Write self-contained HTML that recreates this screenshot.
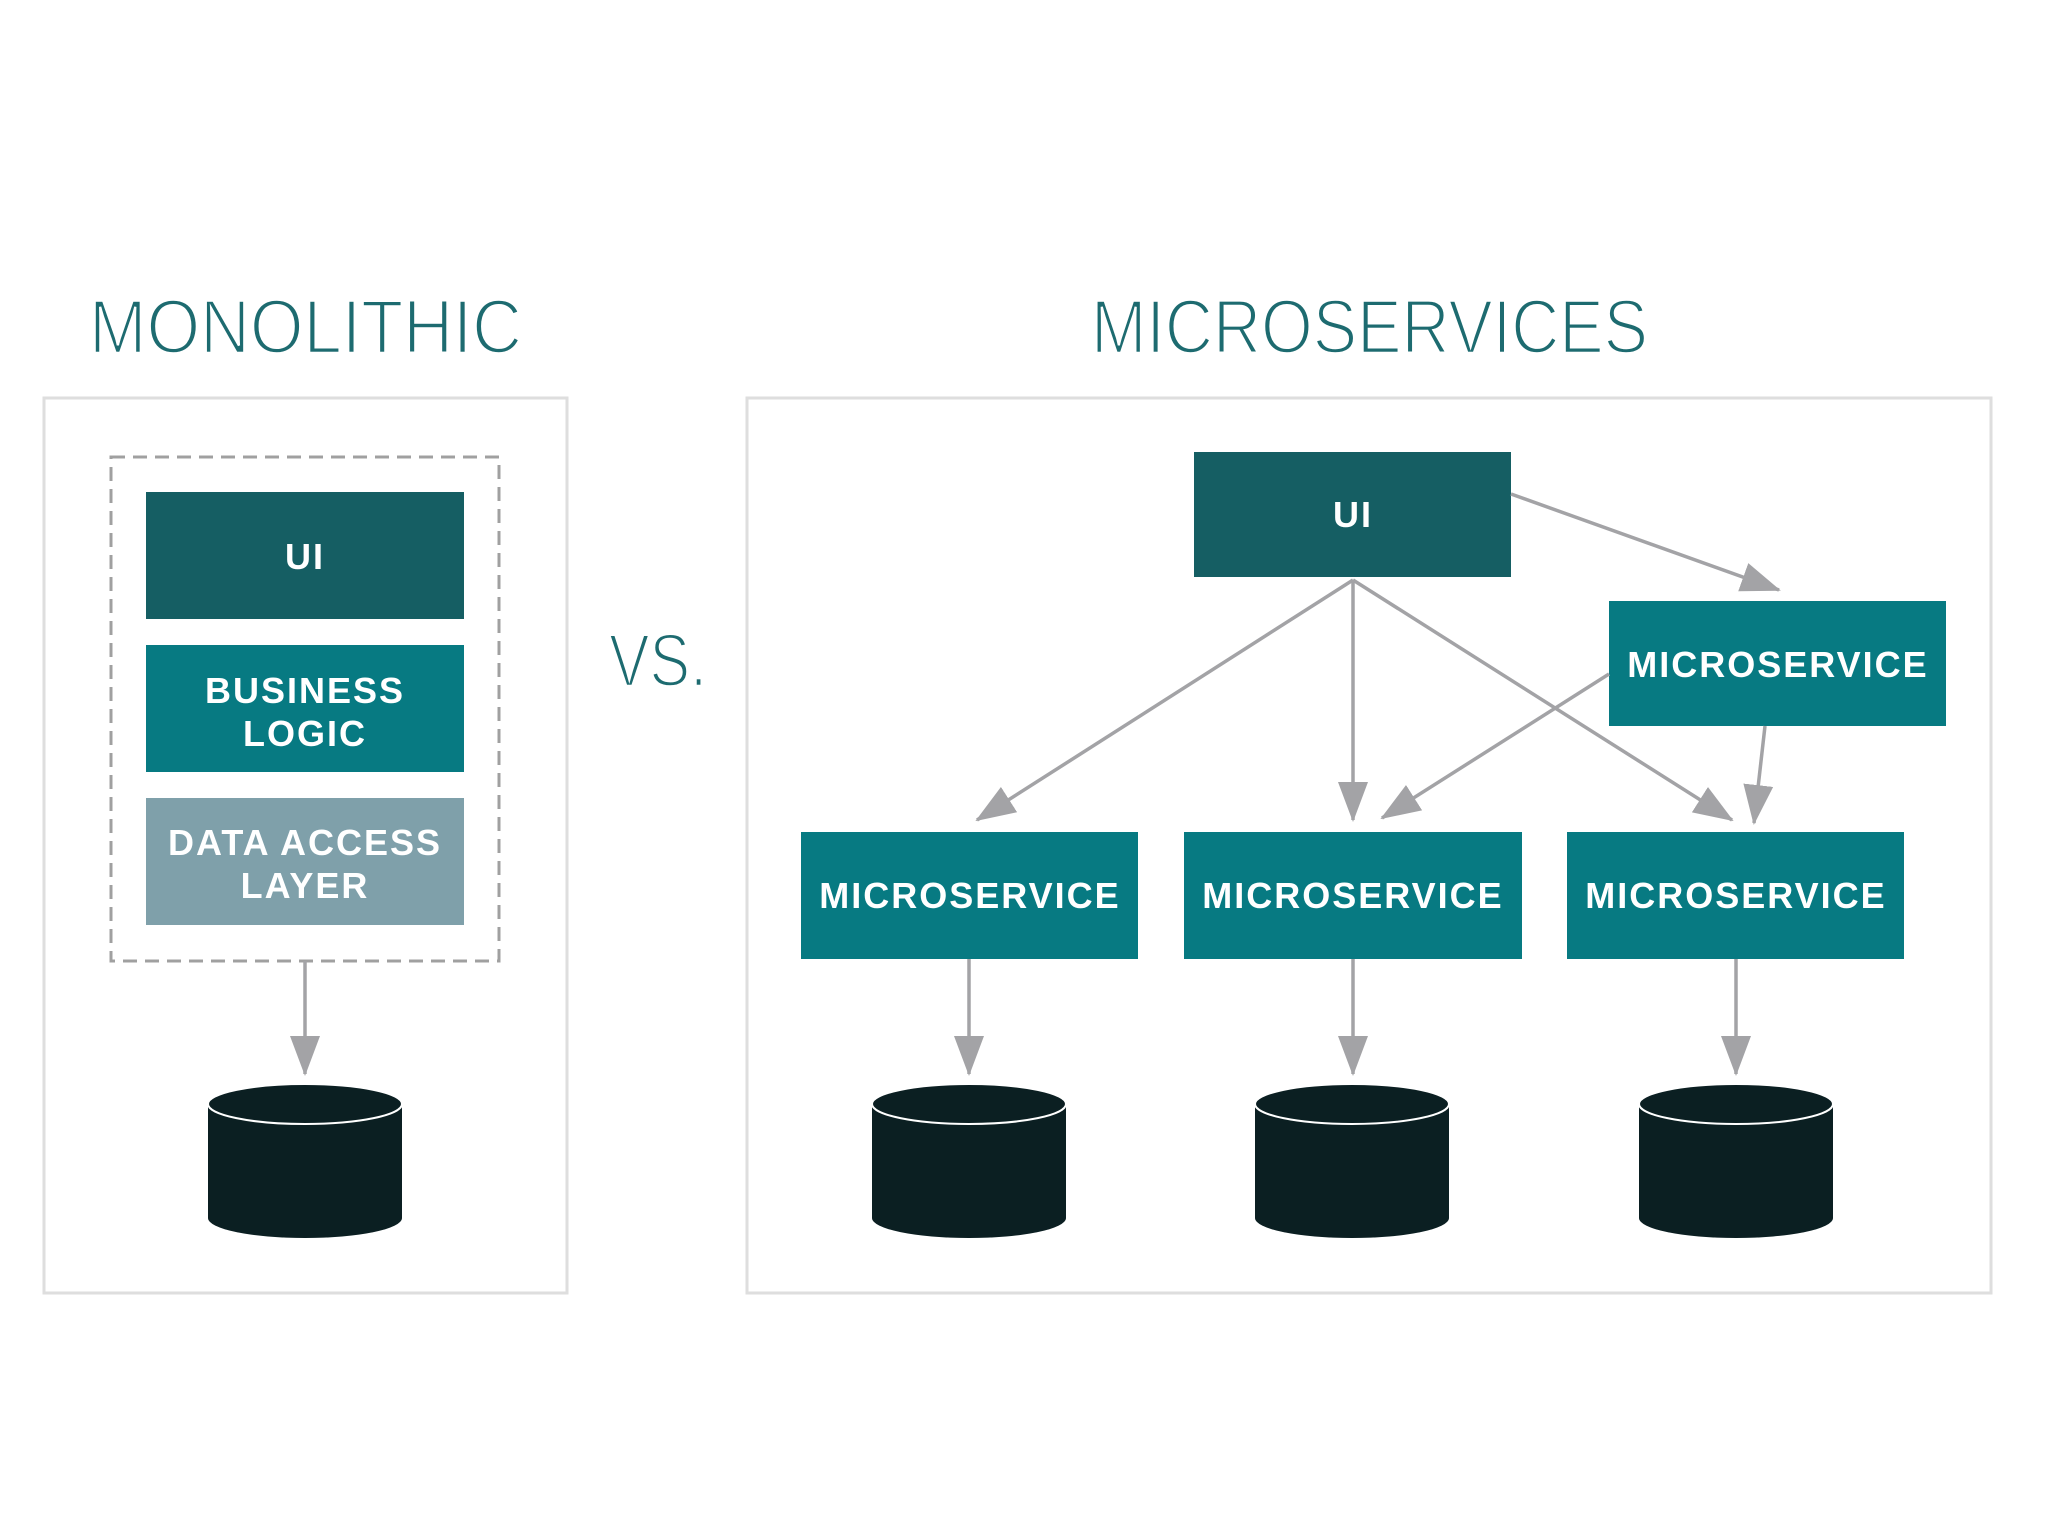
<!DOCTYPE html>
<html><head><meta charset="utf-8"><style>html,body{margin:0;padding:0;background:#fff}svg{display:block}</style></head>
<body>
<svg width="2048" height="1536" viewBox="0 0 2048 1536" xmlns="http://www.w3.org/2000/svg" font-family="Liberation Sans, sans-serif">
<defs>
<marker id="ah" markerWidth="40" markerHeight="30" refX="38" refY="15" orient="auto" markerUnits="userSpaceOnUse">
<path d="M0,0 L40,15 L0,30 Z" fill="#a3a3a6"/>
</marker>
</defs>
<rect width="2048" height="1536" fill="#fff"/>
<!-- Titles -->
<g fill="#1d6b70" stroke="#fff" stroke-width="2.5">
<text x="89" y="353" font-size="76" textLength="433" lengthAdjust="spacingAndGlyphs">MONOLITHIC</text>
<text x="1091" y="353" font-size="76" textLength="557" lengthAdjust="spacingAndGlyphs">MICROSERVICES</text>
<text x="609" y="686" font-size="74" textLength="98" lengthAdjust="spacingAndGlyphs">VS.</text>
</g>
<!-- Panels -->
<rect x="44" y="398" width="523" height="895" fill="#fff" stroke="#dedede" stroke-width="3"/>
<rect x="747" y="398" width="1244" height="895" fill="#fff" stroke="#dedede" stroke-width="3"/>
<!-- Monolithic -->
<rect x="111" y="457" width="388" height="504" fill="none" stroke="#a0a0a0" stroke-width="3" stroke-dasharray="14,8"/>
<rect x="146" y="492" width="318" height="127" fill="#155e63"/>
<rect x="146" y="645" width="318" height="127" fill="#077a82"/>
<rect x="146" y="798" width="318" height="127" fill="#7fa0aa"/>
<g fill="#fff" font-weight="bold" font-size="36" text-anchor="middle" letter-spacing="2">
<text x="305" y="569">UI</text>
<text x="305" y="703">BUSINESS</text>
<text x="305" y="746">LOGIC</text>
<text x="305" y="855">DATA ACCESS</text>
<text x="305" y="898">LAYER</text>
</g>
<line x1="305" y1="961" x2="305" y2="1074" stroke="#a3a3a6" stroke-width="3.5" marker-end="url(#ah)"/>
<!-- Microservices boxes -->
<rect x="1194" y="452" width="317" height="125" fill="#155e63"/>
<rect x="1609" y="601" width="337" height="125" fill="#077a82"/>
<rect x="801" y="832" width="337" height="127" fill="#077a82"/>
<rect x="1184" y="832" width="338" height="127" fill="#077a82"/>
<rect x="1567" y="832" width="337" height="127" fill="#077a82"/>
<g fill="#fff" font-weight="bold" font-size="36" text-anchor="middle" letter-spacing="2">
<text x="1353" y="527">UI</text>
<text x="1778" y="677">MICROSERVICE</text>
<text x="970" y="908">MICROSERVICE</text>
<text x="1353" y="908">MICROSERVICE</text>
<text x="1736" y="908">MICROSERVICE</text>
</g>
<g stroke="#a3a3a6" stroke-width="3.5" marker-end="url(#ah)">
<line x1="1353" y1="580" x2="977" y2="820"/>
<line x1="1353" y1="580" x2="1353" y2="820"/>
<line x1="1353" y1="580" x2="1732" y2="820"/>
<line x1="1511" y1="494" x2="1779" y2="590"/>
<line x1="1609" y1="674" x2="1382" y2="818"/>
<line x1="1765" y1="726" x2="1754" y2="823"/>
<line x1="969" y1="959" x2="969" y2="1074"/>
<line x1="1353" y1="959" x2="1353" y2="1074"/>
<line x1="1736" y1="959" x2="1736" y2="1074"/>
</g>
<!-- Cylinders -->
<g id="cyl">
<path d="M208,1104 L208,1218 A97,20 0 0 0 402,1218 L402,1104 Z" fill="#0b1f22"/>
<ellipse cx="305" cy="1104" rx="97" ry="20" fill="#0b1f22" stroke="#fff" stroke-width="2"/>
</g>
<use href="#cyl" x="664"/>
<use href="#cyl" x="1047"/>
<use href="#cyl" x="1431"/>
</svg>
</body></html>
